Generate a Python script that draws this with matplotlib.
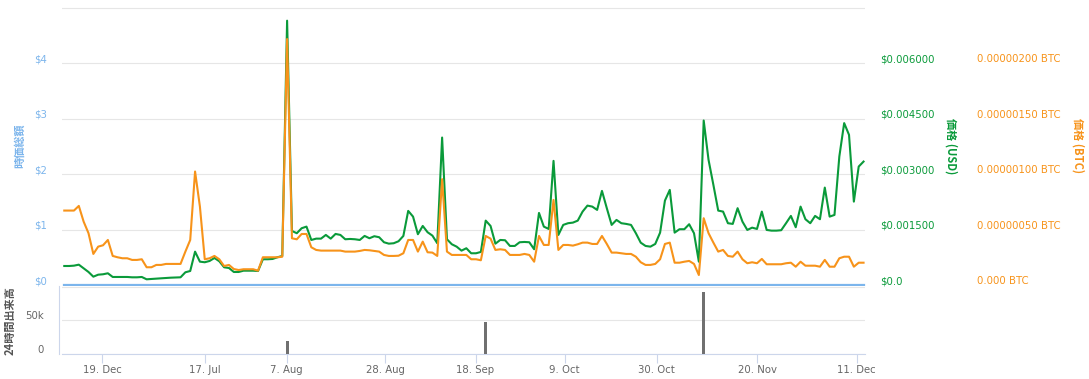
import numpy as np
import matplotlib.pyplot as plt
from matplotlib import transforms

plt.rcParams['font.family'] = ['DejaVu Sans', 'Noto Sans CJK JP']

# one value per (ordinal) trading day
price_usd = [
    0.000514, 0.000514, 0.000523, 0.000550, 0.000452, 0.000352, 0.000225, 0.000279, 0.000290, 0.000317,
    0.000217, 0.000217, 0.000217, 0.000217, 0.000208, 0.000208, 0.000217, 0.000154, 0.000162, 0.000171,
    0.000181, 0.000190, 0.000198, 0.000203, 0.000208, 0.000344, 0.000379, 0.000902, 0.000631, 0.000615,
    0.000650, 0.000731, 0.000642, 0.000479, 0.000460, 0.000352, 0.000352, 0.000387, 0.000387, 0.000387,
    0.000379, 0.000696, 0.000696, 0.000704, 0.000750, 0.000785, 0.007148, 0.001462, 0.001400, 0.001535,
    0.001579, 0.001218, 0.001254, 0.001254, 0.001354, 0.001254, 0.001381, 0.001354, 0.001237, 0.001245,
    0.001237, 0.001218, 0.001327, 0.001264, 0.001319, 0.001292, 0.001156, 0.001118, 0.001129, 0.001183,
    0.001327, 0.002004, 0.001849, 0.001373, 0.001597, 0.001427, 0.001335, 0.001129, 0.003988, 0.001237,
    0.001102, 0.001037, 0.000929, 0.000994, 0.000858, 0.000858, 0.000894, 0.001741, 0.001597, 0.001118,
    0.001218, 0.001210, 0.001056, 0.001056, 0.001156, 0.001164, 0.001156, 0.000967, 0.001949, 0.001579,
    0.001516, 0.003357, 0.001354, 0.001625, 0.001671, 0.001687, 0.001741, 0.001985, 0.002147, 0.002120,
    0.002031, 0.002545, 0.002077, 0.001625, 0.001760, 0.001671, 0.001652, 0.001625, 0.001400, 0.001145,
    0.001056, 0.001037, 0.001110, 0.001416, 0.002283, 0.002572, 0.001416, 0.001508, 0.001508, 0.001643,
    0.001400, 0.000631, 0.004449, 0.003385, 0.002708, 0.002012, 0.001985, 0.001671, 0.001652, 0.002077,
    0.001714, 0.001489, 0.001551, 0.001516, 0.001985, 0.001489, 0.001470, 0.001470, 0.001481, 0.001671,
    0.001868, 0.001562, 0.002120, 0.001779, 0.001671, 0.001868, 0.001779, 0.002634, 0.001849, 0.001895,
    0.003474, 0.004378, 0.004061, 0.002255, 0.003203, 0.003338,
]

# BTC price in satoshi (1e-8 BTC)
price_btc_sat = [
    67.1, 67.1, 67.1, 71.3, 57.1, 46.7, 28.0, 34.6, 35.8, 40.6,
    26.2, 25.0, 24.1, 24.1, 22.6, 22.6, 23.2, 16.0, 16.0, 18.1,
    18.1, 19.0, 19.0, 19.0, 19.0, 30.1, 40.6, 102.3, 70.7, 23.2,
    24.1, 26.2, 23.2, 17.1, 18.1, 14.4, 13.5, 14.2, 14.2, 14.2,
    12.9, 25.0, 25.0, 25.0, 25.0, 25.5, 221.7, 42.1, 41.2, 46.0,
    46.0, 34.0, 31.6, 31.0, 31.0, 31.0, 31.0, 31.0, 30.1, 30.1,
    30.1, 30.7, 31.6, 31.3, 30.7, 30.1, 27.1, 26.2, 26.2, 26.4,
    28.6, 40.6, 40.6, 30.1, 39.1, 29.5, 29.2, 26.2, 95.4, 30.1,
    27.1, 27.1, 27.1, 27.1, 23.2, 23.2, 22.3, 44.2, 41.8, 31.6,
    32.2, 31.6, 27.1, 27.1, 27.1, 28.0, 27.1, 21.0, 44.2, 36.1,
    36.1, 76.7, 31.6, 36.1, 36.1, 35.5, 36.7, 38.2, 38.2, 37.0,
    37.0, 44.2, 37.0, 29.2, 29.2, 28.6, 28.0, 28.0, 25.5, 20.5,
    18.1, 18.1, 19.0, 23.2, 37.0, 38.2, 20.1, 20.1, 21.0, 21.7,
    19.0, 9.0, 60.2, 46.7, 38.2, 30.1, 31.6, 26.2, 25.5, 30.1,
    23.2, 19.6, 20.5, 19.6, 23.5, 18.7, 18.7, 18.7, 18.7, 19.6,
    20.1, 16.5, 21.0, 17.4, 17.4, 17.4, 16.5, 22.6, 16.5, 16.5,
    24.1, 25.5, 25.5, 16.5, 20.1, 20.1,
]

# market cap is reported as 0 over the whole range
market_cap = np.zeros(len(price_usd))

vol_days = [46, 87, 132]
vol_values = [19000, 47500, 92000]

date_pos = [7.8, 29.0, 45.9, 66.3, 84.9, 103.3, 122.3, 143.1, 163.6]
date_labels = ['19. Dec', '17. Jul', '7. Aug', '28. Aug', '18. Sep', '9. Oct', '30. Oct', '20. Nov', '11. Dec']

GREEN = '#0a9a3a'
ORANGE = '#f7931a'
BLUE = '#7cb5ec'
GRID = '#e6e6e6'
AXIS = '#ccd6eb'
FS = 7.3
JP = ['Noto Sans CJK JP', 'DejaVu Sans']

W, H = 1089, 379
fig = plt.figure(figsize=(W / 100, H / 100), dpi=100)


def box(l, t, r, b):
    return [l / W, 1 - b / H, (r - l) / W, (b - t) / H]


def lift(axis_obj, px):
    off = transforms.ScaledTranslation(0, px / 100, fig.dpi_scale_trans)
    for lab in axis_obj.get_yticklabels():
        lab.set_transform(lab.get_transform() + off)


x = np.arange(len(price_usd))
xlim = (-0.47, 165.3)
top = 5.03

ax = fig.add_axes(box(62, 6, 865, 285))
axv = fig.add_axes(box(62, 286, 865, 354), sharex=ax)

# market cap axis (left)
ax.set_xlim(*xlim)
ax.set_ylim(0, top)
ax.set_yticks([0, 1, 2, 3, 4, 5])
ax.set_yticklabels(['$0', '$1', '$2', '$3', '$4', ''])
ax.grid(axis='y', color=GRID, lw=0.8)
ax.set_axisbelow(True)
ax.tick_params(axis='y', length=0, pad=10.5, labelsize=FS, labelcolor=BLUE)
ax.tick_params(axis='x', length=0, labelbottom=False)
for s in ax.spines.values():
    s.set_visible(False)
ax.plot(x, market_cap, color=BLUE, lw=1.6, clip_on=False, zorder=3)
lift(ax, 5)

# USD price
ax_usd = ax.twinx()
ax_usd.set_ylim(0, top * 0.0015)
ax_usd.set_yticks([0, 0.0015, 0.003, 0.0045, 0.006])
ax_usd.set_yticklabels(['$0.0', '$0.001500', '$0.003000', '$0.004500', '$0.006000'])
ax_usd.tick_params(axis='y', length=0, pad=10.8, labelsize=FS, labelcolor=GREEN)
for s in ax_usd.spines.values():
    s.set_visible(False)
ax_usd.plot(x, price_usd, color=GREEN, lw=1.5)
lift(ax_usd, 5)

# BTC price
ax_btc = ax.twinx()
ax_btc.set_ylim(0, top * 50)
btc_ticks = [0, 50, 100, 150, 200]
ax_btc.set_yticks(btc_ticks)
ax_btc.set_yticklabels(['0.000 BTC'] + ['%.8f BTC' % (t * 1e-8) for t in btc_ticks[1:]])
ax_btc.tick_params(axis='y', length=0, pad=80.5, labelsize=FS, labelcolor=ORANGE)
for s in ax_btc.spines.values():
    s.set_visible(False)
ax_btc.plot(x, price_btc_sat, color=ORANGE, lw=1.5)
lift(ax_btc, 5)

# volume pane
axv.bar(vol_days, vol_values, width=0.6, color='#707070', zorder=3)
axv.set_ylim(0, 101000)
axv.set_yticks([0, 50000, 100000])
axv.set_yticklabels(['0', '50k', ''])
axv.grid(axis='y', color=GRID, lw=0.8)
axv.set_axisbelow(True)
axv.tick_params(axis='y', length=0, pad=11, labelsize=FS, labelcolor='#666666')
axv.set_xticks(date_pos)
axv.set_xticklabels(date_labels)
axv.tick_params(axis='x', length=6.5, width=0.8, color=AXIS, pad=1.5,
                labelsize=FS, labelcolor='#666666')
for k in ['top', 'right']:
    axv.spines[k].set_visible(False)
axv.spines['bottom'].set_color(AXIS)
axv.spines['left'].set_color(AXIS)
axv.spines['left'].set_position(('outward', 2))
axv.spines['bottom'].set_linewidth(0.8)
axv.spines['left'].set_linewidth(0.8)
lift(axv, 5)

# axis titles
fig.text(20 / W, 1 - 146 / H, '時価総額', rotation=90, ha='center', va='center',
         color=BLUE, fontsize=8, weight='bold', family=JP)
fig.text(10 / W, 1 - 321 / H, '24時間出来高', rotation=90, ha='center', va='center',
         color='#555555', fontsize=8, weight='bold', family=JP)
fig.text(951 / W, 1 - 146 / H, '価格 (USD)', rotation=-90, ha='center', va='center',
         color=GREEN, fontsize=8, weight='bold', family=JP)
fig.text(1078 / W, 1 - 146 / H, '価格 (BTC)', rotation=-90, ha='center', va='center',
         color=ORANGE, fontsize=8, weight='bold', family=JP)

fig.savefig('out.png', dpi=100)
